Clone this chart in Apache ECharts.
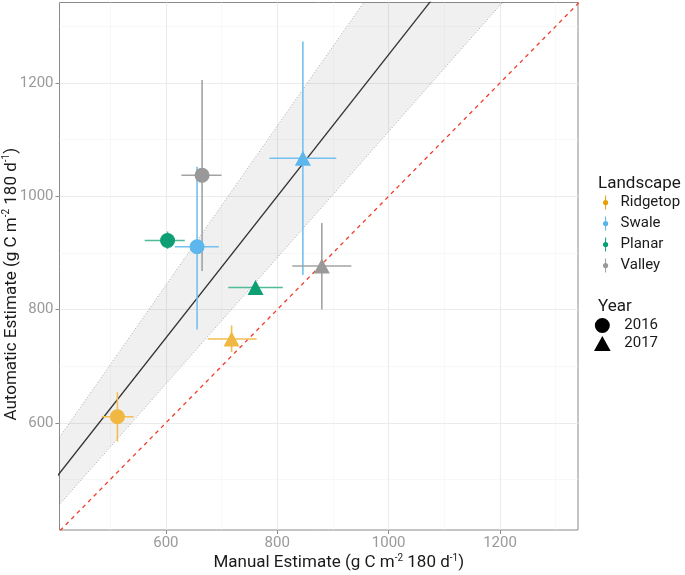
<!DOCTYPE html>
<html>
<head>
<meta charset="utf-8">
<script src="https://cdn.jsdelivr.net/npm/echarts@6/dist/echarts.min.js"></script>
<style>
    html, body { margin: 0; padding: 0; background: #fff; }
    #chart { width: 685px; height: 575px; }
</style>
</head>
<body>
<div id="chart"></div>
<script>
// landscapes and years
var landscapes = ['Ridgetop', 'Swale', 'Planar', 'Valley'];
var years = ['2016', '2017'];

// one entry per plotted point
var pointLandscape = [0, 0, 1, 1, 2, 2, 3, 3];
var pointYear = [0, 1, 0, 1, 0, 1, 0, 1];
var manual = [513, 718, 656, 846, 603, 761, 665, 880];
var manualLow = [485, 675, 616, 786, 562, 712, 628, 827];
var manualHigh = [542, 763, 695, 906, 634, 810, 700, 933];
var automatic = [611, 748, 911, 1067, 922, 839, 1037, 877];
var automaticLow = [567, 725, 765, 861, 907, 830, 868, 800];
var automaticHigh = [654, 772, 1052, 1273, 938, 848, 1205, 953];

// fitted line, its band and the 1:1 line (end points, clipped by the panel)
var fitLine = [[400, 500], [1200, 1500]];
var bandUpper = [[400, 562], [1400, 1967]];
var bandLower = [[400, 446], [1400, 1560]];
var oneToOne = [[400, 400], [1400, 1400]];

// axis ticks
var majorTicks = [600, 800, 1000, 1200];
var minorTicks = [500, 700, 900, 1100, 1300];

var legendColors = ['#E69F00', '#56B4E9', '#009E73', '#999999'];
var pointColors = ['#F0B843', '#5DB6EC', '#0E9E74', '#999999'];
var barColors = ['#F2BE52', '#74C0EE', '#52BA98', '#A3A3A3'];

var chart = echarts.init(document.getElementById('chart'));

function gridMarks(values, width, color) {
    var out = [];
    values.forEach(function (v) {
        out.push({xAxis: v, lineStyle: {color: color, width: width, type: 'solid'}});
        out.push({yAxis: v, lineStyle: {color: color, width: width, type: 'solid'}});
    });
    return out;
}

var series = [];

// grid lines
series.push({
    type: 'line',
    name: 'grid',
    data: [],
    silent: true,
    z: 0,
    markLine: {
        silent: true,
        z: 0,
        symbol: 'none',
        label: {show: false},
        animation: false,
        data: gridMarks(minorTicks, 0.6, '#f3f3f3').concat(gridMarks(majorTicks, 1.1, '#ebebeb'))
    }
});

// confidence band
series.push({
    type: 'custom',
    name: 'band',
    silent: true,
    clip: true,
    z: 1,
    data: [[0, 0]],
    renderItem: function (params, api) {
        var pts = [bandLower[0], bandLower[1], bandUpper[1], bandUpper[0]].map(function (p) {
            return api.coord(p);
        });
        return {type: 'polygon', shape: {points: pts}, style: {fill: 'rgba(0,0,0,0.06)', stroke: null}};
    }
});

[bandUpper, bandLower].forEach(function (d) {
    series.push({
        type: 'line', data: d, showSymbol: false, silent: true, clip: true, z: 2,
        lineStyle: {color: '#a6a6a6', width: 1, type: [1, 2]}
    });
});

series.push({
    type: 'line', data: fitLine, showSymbol: false, silent: true, clip: true, z: 3,
    lineStyle: {color: '#333', width: 1.3}
});

series.push({
    type: 'line', data: oneToOne, showSymbol: false, silent: true, clip: true, z: 3,
    lineStyle: {color: '#f03c28', width: 1.3, type: [4, 4]}
});

// error bars, one series per landscape (drives the Landscape legend)
landscapes.forEach(function (name, li) {
    var data = [];
    for (var i = 0; i < manual.length; i++) {
        if (pointLandscape[i] !== li) continue;
        data.push([manual[i], automatic[i], manualLow[i], manualHigh[i], automaticLow[i], automaticHigh[i]]);
    }
    series.push({
        type: 'custom',
        name: name,
        z: 4,
        clip: true,
        itemStyle: {color: legendColors[li]},
        encode: {x: 0, y: 1},
        data: data,
        renderItem: function (params, api) {
            var c = barColors[li];
            var y = api.value(1), x = api.value(0);
            var h1 = api.coord([api.value(2), y]), h2 = api.coord([api.value(3), y]);
            var v1 = api.coord([x, api.value(4)]), v2 = api.coord([x, api.value(5)]);
            var st = {stroke: c, lineWidth: 1.6};
            return {
                type: 'group',
                children: [
                    {type: 'line', shape: {x1: h1[0], y1: h1[1], x2: h2[0], y2: h2[1]}, style: st},
                    {type: 'line', shape: {x1: v1[0], y1: v1[1], x2: v2[0], y2: v2[1]}, style: st}
                ]
            };
        }
    });
});

// points, one series per year (drives the Year legend)
years.forEach(function (yr, yi) {
    var data = [];
    for (var i = 0; i < manual.length; i++) {
        if (pointYear[i] !== yi) continue;
        data.push({value: [manual[i], automatic[i]], itemStyle: {color: pointColors[pointLandscape[i]]}});
    }
    series.push({
        type: 'scatter',
        name: yr,
        z: 5,
        symbol: yi === 0 ? 'circle' : 'triangle',
        symbolSize: yi === 0 ? 15 : [16, 15],
        itemStyle: {color: '#000', opacity: 1},
        data: data
    });
});

var circlePath = 'path://M10,0 A10,10 0 1 1 9.99,0 Z';
var trianglePath = 'path://M10,0 L20,18 L0,18 Z';
var landscapeIcon = 'path://M4.3,0 L5.7,0 L5.7,20 L4.3,20 Z M5,6.3 A3.7,3.7 0 1 1 4.99,6.3 Z';

var axisText = {color: '#9a9a9a', fontSize: 15, fontFamily: 'Roboto', formatter: function (v) { return String(v); }};
var nameRich = {sup: {fontSize: 10, verticalAlign: 'top', lineHeight: 10, fontFamily: 'Roboto', color: '#1a1a1a'}};

var option = {
    animation: false,
    textStyle: {fontFamily: 'Roboto'},
    grid: {
        left: 59.5, top: 2.5, width: 518.5, height: 527.5,
        containLabel: false, outerBoundsMode: 'none',
        show: true, borderColor: '#8a8a8a', borderWidth: 1, backgroundColor: 'transparent'
    },
    title: [
        {text: 'Landscape', left: 593, top: 170, padding: [5, 5, 5, 5], textStyle: {fontSize: 17, fontWeight: 'normal', color: '#1a1a1a', fontFamily: 'Roboto'}},
        {text: 'Year', left: 593, top: 293, padding: [5, 5, 5, 5], textStyle: {fontSize: 17, fontWeight: 'normal', color: '#1a1a1a', fontFamily: 'Roboto'}}
    ],
    legend: [
        {
            orient: 'vertical', left: 603, top: 195, padding: 0,
            itemWidth: 14, itemHeight: 14, itemGap: 6,
            icon: landscapeIcon,
            selectedMode: false,
            textStyle: {fontSize: 15, color: '#1a1a1a', fontFamily: 'Roboto', padding: [0, 0, 0, 3]},
            data: landscapes
        },
        {
            orient: 'vertical', left: 594, top: 318, padding: 0,
            itemWidth: 26, itemHeight: 15, itemGap: 3,
            selectedMode: false,
            textStyle: {fontSize: 15, color: '#1a1a1a', fontFamily: 'Roboto', padding: [0, 0, 0, 4]},
            data: [
                {name: '2016', icon: circlePath, itemStyle: {color: '#000'}},
                {name: '2017', icon: trianglePath, itemStyle: {color: '#000'}}
            ]
        }
    ],
    xAxis: {
        type: 'value', min: 409, max: 1340,
        name: 'Manual Estimate (g C m{sup|-2} 180 d{sup|-1})',
        nameLocation: 'middle', nameGap: 23, nameMoveOverlap: false,
        nameTextStyle: {fontSize: 17, color: '#1a1a1a', lineHeight: 20, padding: [0, 0, 0, 40], rich: nameRich},
        axisLine: {show: false},
        axisTick: {show: true, length: 4, lineStyle: {color: '#8a8a8a'}, customValues: majorTicks},
        axisLabel: Object.assign({margin: 6, customValues: majorTicks}, axisText),
        splitLine: {show: false}
    },
    yAxis: {
        type: 'value', min: 411, max: 1342,
        name: 'Automatic Estimate (g C m{sup|-2} 180 d{sup|-1})',
        nameLocation: 'middle', nameGap: 38, nameMoveOverlap: false,
        nameTextStyle: {fontSize: 17, color: '#1a1a1a', lineHeight: 20, padding: [0, 36, 0, 0], rich: nameRich},
        axisLine: {show: false},
        axisTick: {show: true, length: 4, lineStyle: {color: '#8a8a8a'}, customValues: majorTicks},
        axisLabel: Object.assign({margin: 6, customValues: majorTicks}, axisText),
        splitLine: {show: false}
    },
    series: series
};

chart.setOption(option);
</script>
</body>
</html>
